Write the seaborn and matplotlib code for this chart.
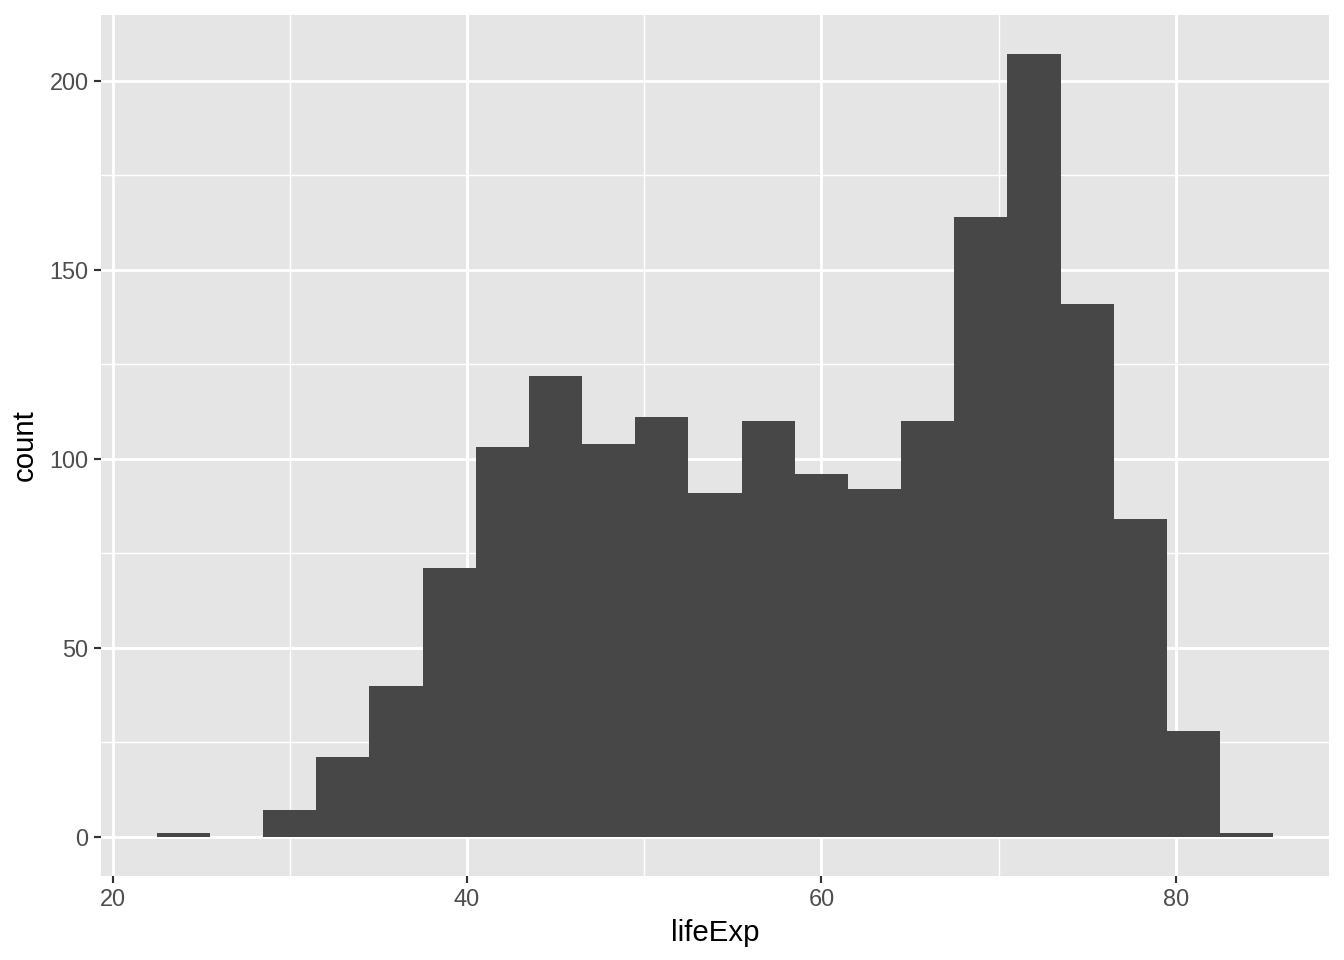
import numpy as np
import pandas as pd
import matplotlib
matplotlib.use("Agg")
import matplotlib.pyplot as plt
import seaborn as sns

# Histogram bins (lifeExp) and counts
bin_edges = [22.5, 25.5, 28.5, 31.5, 34.5, 37.5, 40.5, 43.5, 46.5, 49.5, 52.5,
             55.5, 58.5, 61.5, 64.5, 67.5, 70.5, 73.5, 76.5, 79.5, 82.5, 85.5]
counts = [1, 0, 7, 21, 40, 71, 103, 122, 104, 111, 91,
          110, 96, 92, 110, 164, 207, 141, 84, 28, 1]
x_ticks = [20, 40, 60, 80]
y_ticks = [0, 50, 100, 150, 200]

centers = [(a + b) / 2 for a, b in zip(bin_edges[:-1], bin_edges[1:])]
df = pd.DataFrame({"lifeExp": centers, "count": counts})

sns.set_theme(style="white")
plt.rcParams["font.family"] = ["Liberation Sans", "DejaVu Sans"]

fig = plt.figure(figsize=(7, 5), dpi=192)
ax = fig.add_axes([101 / 1344, 1 - 876 / 960, (1329 - 101) / 1344, (876 - 15) / 960])
ax.set_facecolor("#E5E5E5")

sns.histplot(data=df, x="lifeExp", weights="count", bins=bin_edges,
             color="#474747", edgecolor="none", linewidth=0, alpha=1.0,
             ax=ax, zorder=3)

span = bin_edges[-1] - bin_edges[0]
ax.set_xlim(bin_edges[0] - 0.05 * span, bin_edges[-1] + 0.05 * span)
ymax = max(counts)
ax.set_ylim(-0.05 * ymax, ymax * 1.05)

ax.set_xticks(x_ticks)
ax.set_yticks(y_ticks)
ax.set_xticks([30, 50, 70], minor=True)
ax.set_yticks([25, 75, 125, 175], minor=True)

ax.grid(True, which="major", color="white", linewidth=1.07, zorder=1)
ax.grid(True, which="minor", color="white", linewidth=0.53, zorder=1)
ax.set_axisbelow(True)

for s in ax.spines.values():
    s.set_visible(False)

ax.tick_params(axis="both", which="major", length=2.75 * 0.9, width=1.07 * 0.75,
               color="#333333", labelcolor="#4D4D4D", labelsize=8.8, pad=2.2,
               bottom=True, left=True)
ax.tick_params(axis="both", which="minor", length=0, bottom=False, left=False)

ax.set_xlabel("lifeExp", fontsize=11, color="black", labelpad=3)
ax.set_ylabel("count", fontsize=11, color="black", labelpad=4)

fig.savefig("out.png", dpi=192)
